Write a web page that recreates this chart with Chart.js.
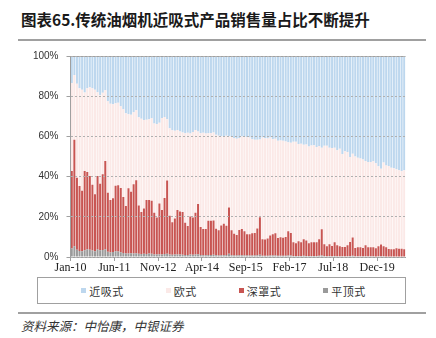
<!DOCTYPE html>
<html>
<head>
<meta charset="utf-8">
<script src="https://cdn.jsdelivr.net/npm/chart.js@4.4.0/dist/chart.umd.min.js"></script>
<style>
  html, body { margin: 0; padding: 0; background: #fff; }
  body { width: 436px; height: 338px; position: relative; overflow: hidden; font-family: "Noto Sans CJK SC", sans-serif; }
  #title { position: absolute; left: 21px; top: 9px; line-height: 20px; font-size: 15.5px; font-weight: bold; color: #1a1a1a; white-space: nowrap; }
  .rule { position: absolute; left: 18px; width: 408px; height: 2px; background: #a0a0a0; }
  #chartBox { position: absolute; left: 0; top: 42px; width: 436px; height: 235px; }
  #legend { position: absolute; left: 37px; top: 277px; width: 369px; height: 27px; box-sizing: border-box; border: 1px solid #a0a0a0;
            display: flex; justify-content: center; align-items: center; gap: 42px; padding-left: 4px; }
  .item { display: flex; align-items: center; font-size: 11px; letter-spacing: 0.5px; color: #333; }
  .swatch { width: 5px; height: 5px; margin-right: 3px; }
  #source { position: absolute; left: 21px; top: 318px; line-height: 16px; font-size: 12.5px; font-style: italic; color: #333; white-space: nowrap; }
</style>
</head>
<body>
<div id="title">图表65.传统油烟机近吸式产品销售量占比不断提升</div>
<div class="rule" style="top:39px"></div>
<div id="chartBox"><canvas id="shareChart" width="436" height="235"></canvas></div>
<div id="legend"></div>
<div class="rule" style="top:312px"></div>
<div id="source">资料来源：中怡康，中银证券</div>

<script>
// 月份: Jan-10 ... Oct-20
const monthNames = ['Jan','Feb','Mar','Apr','May','Jun','Jul','Aug','Sep','Oct','Nov','Dec'];
const categories = [];
for (let y = 10; y <= 20; y++) {
  for (let m = 0; m < 12; m++) {
    if (y === 20 && m > 9) break;
    categories.push(monthNames[m] + '-' + y);
  }
}

// 销售量占比 (%)
const nearSuction = [
  13.4, 9.4, 13.8, 16.0, 16.8, 18.2, 16.0, 15.6, 16.0, 16.8,
  18.0, 19.5, 18.3, 17.0, 22.5, 23.7, 24.0, 23.5, 23.2, 25.0,
  26.5, 28.5, 29.0, 29.2, 28.0, 27.0, 30.5, 31.2, 31.8, 31.7,
  31.5, 31.0, 33.6, 33.8, 33.2, 30.8, 30.4, 31.5, 36.0, 37.0,
  37.2, 36.8, 37.5, 38.0, 38.4, 38.2, 38.5, 37.8, 36.8, 37.5,
  38.4, 38.2, 38.5, 38.4, 38.4, 38.0, 39.2, 39.7, 39.9, 40.0,
  39.7, 39.9, 40.2, 40.8, 41.2, 40.8, 40.0, 40.2, 40.4, 40.6,
  41.4, 41.7, 41.7, 41.6, 40.6, 40.9, 41.0, 40.6, 41.4, 41.2,
  42.2, 42.0, 42.2, 42.5, 42.9, 43.1, 42.6, 42.7, 43.8, 43.7,
  44.1, 44.0, 45.0, 44.5, 44.4, 45.3, 44.8, 45.7, 44.6, 44.7,
  45.7, 45.8, 45.6, 46.9, 46.1, 48.7, 47.4, 47.7, 50.3, 48.6,
  50.0, 50.6, 51.0, 51.5, 52.3, 52.7, 52.7, 52.4, 53.3, 54.8,
  56.1, 53.0, 54.5, 54.7, 55.6, 55.9, 56.4, 56.9, 57.2, 56.9
];
const european = [
  43.8, 32.3, 46.8, 48.7, 50.3, 39.0, 41.7, 44.1, 48.0, 52.0,
  41.7, 44.0, 40.5, 35.3, 45.5, 47.9, 46.8, 41.1, 41.1, 40.7,
  43.6, 46.1, 36.8, 38.3, 35.8, 34.8, 43.9, 46.4, 44.1, 40.0,
  40.1, 41.0, 44.4, 46.6, 40.2, 45.8, 40.3, 30.5, 43.5, 45.7,
  43.7, 39.8, 39.9, 39.6, 44.6, 46.4, 41.4, 42.6, 41.2, 36.1,
  46.7, 47.9, 47.6, 43.6, 43.6, 43.8, 46.7, 47.0, 44.4, 43.4,
  44.8, 35.5, 46.5, 47.6, 47.8, 45.8, 46.1, 47.0, 48.3, 48.1,
  46.8, 46.3, 44.1, 38.6, 50.6, 50.4, 49.8, 48.7, 47.3, 47.0,
  48.4, 48.2, 48.2, 47.6, 44.3, 45.0, 50.1, 50.5, 48.4, 49.0,
  47.1, 47.8, 48.2, 48.1, 48.3, 47.4, 46.4, 40.5, 49.0, 49.9,
  47.9, 48.7, 47.1, 47.3, 48.6, 46.3, 47.6, 46.4, 42.2, 41.7,
  45.5, 44.6, 44.2, 44.0, 41.9, 42.4, 42.4, 42.7, 42.3, 39.8,
  37.7, 41.6, 40.7, 41.3, 40.5, 40.3, 39.2, 39.0, 38.7, 39.3
];
const deepHood = [
  38.6, 52.9, 35.8, 32.3, 30.1, 39.5, 38.5, 36.7, 32.8, 28.3,
  36.6, 33.1, 37.7, 43.8, 29.4, 26.1, 26.7, 32.6, 33.0, 31.9,
  27.9, 23.6, 32.5, 30.6, 34.4, 36.3, 24.0, 20.9, 22.5, 26.8,
  26.7, 26.4, 20.7, 18.4, 25.2, 22.1, 27.8, 36.4, 19.3, 16.2,
  17.9, 22.1, 21.4, 21.3, 16.0, 14.4, 18.8, 18.5, 20.8, 25.0,
  13.9, 13.0, 13.0, 17.0, 17.0, 17.1, 13.2, 12.5, 14.8, 15.7,
  14.5, 23.0, 12.4, 10.8, 10.2, 12.5, 13.0, 12.0, 10.5, 10.6,
  11.0, 11.2, 13.3, 18.7, 8.2, 8.1, 8.6, 10.0, 10.6, 11.1,
  8.8, 9.2, 9.0, 9.3, 12.1, 11.2, 6.8, 6.3, 7.3, 6.8,
  8.2, 7.7, 6.3, 6.9, 6.8, 6.8, 8.2, 13.0, 5.9, 5.0,
  5.9, 5.1, 6.8, 5.4, 4.9, 4.6, 4.6, 5.5, 7.0, 9.1,
  4.1, 4.4, 4.4, 4.1, 5.4, 4.5, 4.5, 4.5, 4.1, 5.0,
  5.8, 5.0, 4.5, 3.7, 3.6, 3.5, 4.1, 3.8, 3.8, 3.5
];
const flatTop = [
  4.2, 5.4, 3.6, 3.0, 2.8, 3.3, 3.8, 3.6, 3.2, 2.9,
  3.7, 3.4, 3.5, 3.9, 2.6, 2.3, 2.5, 2.8, 2.7, 2.4,
  2.0, 1.8, 1.7, 1.9, 1.8, 1.9, 1.6, 1.5, 1.6, 1.5,
  1.7, 1.6, 1.3, 1.2, 1.4, 1.3, 1.5, 1.6, 1.2, 1.1,
  1.2, 1.3, 1.2, 1.1, 1.0, 1.0, 1.3, 1.1, 1.2, 1.4,
  1.0, 0.9, 0.9, 1.0, 1.0, 1.1, 0.9, 0.8, 0.9, 0.9,
  1.0, 1.6, 0.9, 0.8, 0.8, 0.9, 0.9, 0.8, 0.8, 0.7,
  0.8, 0.8, 0.9, 1.1, 0.6, 0.6, 0.6, 0.7, 0.7, 0.7,
  0.6, 0.6, 0.6, 0.6, 0.7, 0.7, 0.5, 0.5, 0.5, 0.5,
  0.6, 0.5, 0.5, 0.5, 0.5, 0.5, 0.6, 0.8, 0.5, 0.4,
  0.5, 0.4, 0.5, 0.4, 0.4, 0.4, 0.4, 0.4, 0.5, 0.6,
  0.4, 0.4, 0.4, 0.4, 0.4, 0.4, 0.4, 0.4, 0.3, 0.4,
  0.4, 0.4, 0.3, 0.3, 0.3, 0.3, 0.3, 0.3, 0.3, 0.3
];
const yTicks = [0, 20, 40, 60, 80, 100];

// 系列 (图例顺序)
const series = [
  { label: '近吸式', data: nearSuction, color: '#bdd7ee' },
  { label: '欧式',   data: european,    color: '#fbe9e7' },
  { label: '深罩式', data: deepHood,    color: '#c85552' },
  { label: '平顶式', data: flatTop,     color: '#9a9a9a' }
];

// 图例
const legendEl = document.getElementById('legend');
series.forEach(s => {
  const item = document.createElement('div');
  item.className = 'item';
  item.innerHTML = '<span class="swatch" style="background:' + s.color + '"></span>' + s.label;
  legendEl.appendChild(item);
});

// 100% 顶线
const topLine = {
  id: 'topLine',
  afterDatasetsDraw(chart) {
    const { ctx, chartArea } = chart;
    ctx.save();
    ctx.strokeStyle = '#a0a0a0';
    ctx.lineWidth = 1;
    ctx.beginPath();
    ctx.moveTo(chartArea.left, Math.round(chartArea.top) + 0.5);
    ctx.lineTo(chartArea.right, Math.round(chartArea.top) + 0.5);
    ctx.stroke();
    ctx.restore();
  }
};

const ctx = document.getElementById('shareChart').getContext('2d');
const shareChart = new Chart(ctx, {
  type: 'bar',
  data: {
    labels: categories,
    // 堆叠从下往上: 平顶式, 深罩式, 欧式, 近吸式
    datasets: series.slice().reverse().map(s => ({
      label: s.label,
      data: s.data,
      backgroundColor: s.color,
      borderWidth: 0,
      barPercentage: 0.78,
      categoryPercentage: 1
    }))
  },
  options: {
    responsive: false,
    animation: false,
    layout: { padding: { top: 11.5, right: 30.5, bottom: 0, left: 0 } },
    plugins: { legend: { display: false }, tooltip: { enabled: false } },
    scales: {
      x: {
        stacked: true,
        offset: true,
        grid: {
          offset: true,
          drawOnChartArea: false,
          tickLength: 4,
          color: c => (c.index % 17 === 0 ? '#a0a0a0' : 'rgba(0,0,0,0)')
        },
        border: { color: '#a0a0a0', z: 1 },
        ticks: {
          autoSkip: false,
          maxRotation: 0,
          minRotation: 0,
          padding: 0,
          labelOffset: -1.3,
          color: '#222',
          font: { family: 'Liberation Serif', size: 12 },
          callback: (v, i) => (i % 17 === 0 ? categories[i] : '')
        },
        afterFit: s => { s.height = 20; }
      },
      y: {
        stacked: true,
        min: 0,
        max: 100,
        afterBuildTicks: s => { s.ticks = yTicks.map(v => ({ value: v })); },
        grid: { color: '#b0b0b0', tickLength: 4, tickColor: '#a0a0a0', z: 1 },
        border: { color: '#a0a0a0', dash: [2, 2], z: 1 },
        ticks: {
          padding: 8,
          color: '#333',
          font: { family: 'Liberation Sans', size: 10 },
          callback: v => v + '%'
        },
        afterFit: s => { s.width = 70.5; }
      }
    }
  },
  plugins: [topLine]
});
</script>
</body>
</html>
